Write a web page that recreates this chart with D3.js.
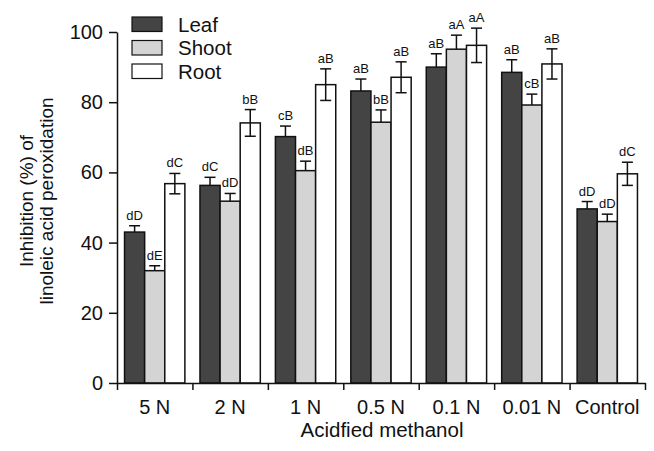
<!DOCTYPE html>
<html>
<head>
<meta charset="utf-8">
<script src="https://cdn.jsdelivr.net/npm/d3@7"></script>
<style>
  body { margin: 0; background: #fff; }
  svg { display: block; font-family: "Liberation Sans", Arial, sans-serif; }
</style>
</head>
<body>
<div id="chart"></div>
<script>
// data
var categories = ["5 N", "2 N", "1 N", "0.5 N", "0.1 N", "0.01 N", "Control"];
var seriesNames = ["Leaf", "Shoot", "Root"];
var leafValues  = [43.0, 56.3, 70.2, 83.2, 90.0, 88.5, 49.6];
var leafErrors  = [1.8, 2.3, 3.0, 3.4, 3.8, 3.6, 2.1];
var shootValues = [32.0, 51.8, 60.5, 74.3, 95.1, 79.2, 46.0];
var shootErrors = [1.4, 2.2, 2.7, 3.5, 4.0, 3.1, 2.1];
var rootValues  = [56.8, 74.1, 85.0, 87.1, 96.2, 90.9, 59.6];
var rootErrors  = [2.9, 3.8, 4.5, 4.4, 4.9, 4.3, 3.3];
var leafLetters  = ["dD", "dC", "cB", "aB", "aB", "aB", "dD"];
var shootLetters = ["dE", "dD", "dB", "bB", "aA", "cB", "dD"];
var rootLetters  = ["dC", "bB", "aB", "aB", "aA", "aB", "dC"];
var yTicks = [0, 20, 40, 60, 80, 100];

var colors = { Leaf: "#444444", Shoot: "#d4d4d4", Root: "#ffffff" };

var svgWidth = 654, svgHeight = 451;
var margin = { top: 32, right: 9, bottom: 68, left: 117 };
var width = svgWidth - margin.left - margin.right;
var height = svgHeight - margin.top - margin.bottom;

var svg = d3.select("#chart").append("svg")
  .attr("width", svgWidth)
  .attr("height", svgHeight);

var chartGroup = svg.append("g")
  .attr("transform", `translate(${margin.left}, ${margin.top})`);

// build rows
var rows = categories.map(function (c, i) {
  return {
    cat: c,
    bars: [
      { name: "Leaf", value: leafValues[i], err: leafErrors[i], letter: leafLetters[i] },
      { name: "Shoot", value: shootValues[i], err: shootErrors[i], letter: shootLetters[i] },
      { name: "Root", value: rootValues[i], err: rootErrors[i], letter: rootLetters[i] }
    ]
  };
});

// scales
var x0 = d3.scaleBand()
  .domain(categories)
  .range([0, width])
  .paddingInner(0.2)
  .paddingOuter(0.1);
var x1 = d3.scaleBand()
  .domain(seriesNames)
  .range([0, x0.bandwidth()]);
var xEdge = d3.scaleLinear()
  .domain([0, categories.length])
  .range([0, width]);
var y = d3.scaleLinear()
  .domain([0, 100])
  .range([height, 0]);

// bars
var groups = chartGroup.selectAll("g.cat")
  .data(rows)
  .enter()
  .append("g")
  .attr("class", "cat")
  .attr("transform", d => `translate(${x0(d.cat)}, 0)`);

groups.selectAll("rect")
  .data(d => d.bars)
  .enter()
  .append("rect")
  .attr("x", d => x1(d.name))
  .attr("y", d => y(d.value))
  .attr("width", x1.bandwidth())
  .attr("height", d => height - y(d.value))
  .attr("fill", d => colors[d.name])
  .attr("stroke", "#111")
  .attr("stroke-width", 1.5);

// error bars (lower whisker only visible on the white Root bars)
var capHalf = 5.5;
var errs = groups.selectAll("g.err")
  .data(d => d.bars)
  .enter()
  .append("g")
  .attr("class", "err")
  .attr("transform", d => `translate(${x1(d.name) + x1.bandwidth() / 2}, 0)`);

errs.append("line")
  .attr("x1", 0).attr("x2", 0)
  .attr("y1", d => d.name === "Root" ? y(d.value - d.err) : y(d.value))
  .attr("y2", d => y(d.value + d.err))
  .attr("stroke", "#111").attr("stroke-width", 1.5);
errs.append("line")
  .attr("x1", -capHalf).attr("x2", capHalf)
  .attr("y1", d => y(d.value + d.err))
  .attr("y2", d => y(d.value + d.err))
  .attr("stroke", "#111").attr("stroke-width", 1.5);
errs.filter(d => d.name === "Root").append("line")
  .attr("x1", -capHalf).attr("x2", capHalf)
  .attr("y1", d => y(d.value - d.err))
  .attr("y2", d => y(d.value - d.err))
  .attr("stroke", "#111").attr("stroke-width", 1.5);

errs.append("text")
  .attr("x", 0)
  .attr("y", d => y(d.value + d.err) - 6)
  .attr("text-anchor", "middle")
  .attr("font-size", "13px")
  .attr("fill", "#111")
  .text(d => d.letter);

// axes
var leftAxis = d3.axisLeft(y)
  .tickValues(yTicks)
  .tickSize(8)
  .tickPadding(6)
  .tickSizeOuter(0);
var yAxisG = chartGroup.append("g").call(leftAxis);
yAxisG.selectAll("text").attr("font-size", "20px").attr("fill", "#111");

var bottomAxis = d3.axisBottom(xEdge)
  .tickValues(d3.range(categories.length + 1))
  .tickFormat("")
  .tickSize(7)
  .tickSizeOuter(0);
var xAxisG = chartGroup.append("g")
  .attr("transform", `translate(0, ${height})`)
  .call(bottomAxis);

[yAxisG, xAxisG].forEach(function (g) {
  g.select(".domain").attr("stroke", "#111").attr("stroke-width", 1.5);
  g.selectAll(".tick line").attr("stroke", "#111").attr("stroke-width", 1.5);
});

// category labels
chartGroup.append("g")
  .selectAll("text")
  .data(categories)
  .enter()
  .append("text")
  .attr("x", d => x0(d) + x0.bandwidth() / 2)
  .attr("y", height + 31)
  .attr("text-anchor", "middle")
  .attr("font-size", "20px")
  .attr("fill", "#111")
  .text(d => d);

// axis titles
chartGroup.append("text")
  .attr("x", 382 - margin.left)
  .attr("y", height + 54)
  .attr("text-anchor", "middle")
  .attr("font-size", "20.5px")
  .attr("fill", "#111")
  .text("Acidfied methanol");

var yTitle = svg.append("text")
  .attr("transform", "translate(33, 201) rotate(-90)")
  .attr("text-anchor", "middle")
  .attr("font-size", "19px")
  .attr("fill", "#111");
yTitle.append("tspan").attr("x", 0).attr("y", 0).text("Inhibition (%) of");
yTitle.append("tspan").attr("x", 0).attr("y", 20).text("linoleic acid peroxidation");

// legend
var legend = svg.append("g")
  .attr("transform", "translate(132, 17)");
var legendItems = legend.selectAll("g")
  .data(seriesNames)
  .enter()
  .append("g")
  .attr("transform", (d, i) => `translate(0, ${i * 23.5})`);
legendItems.append("rect")
  .attr("width", 30)
  .attr("height", 14.5)
  .attr("fill", d => colors[d])
  .attr("stroke", "#111")
  .attr("stroke-width", 1.2);
legendItems.append("text")
  .attr("x", 46)
  .attr("y", 14.7)
  .attr("font-size", "20.5px")
  .attr("fill", "#111")
  .text(d => d);
</script>
</body>
</html>
